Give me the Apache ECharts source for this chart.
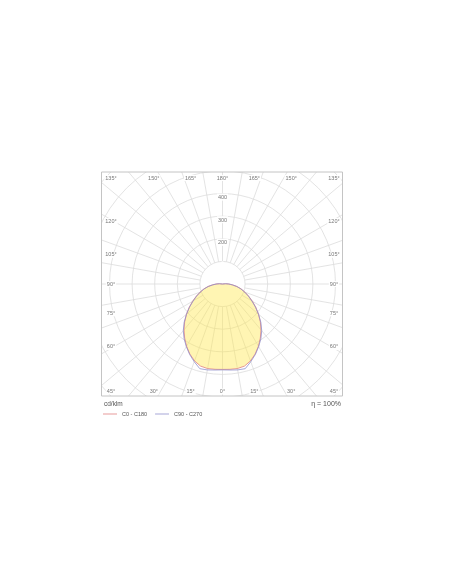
<!DOCTYPE html>
<html>
<head>
<meta charset="utf-8">
<script src="https://cdn.jsdelivr.net/npm/echarts@6/dist/echarts.min.js"></script>
<style>
  html, body { margin: 0; padding: 0; background: #fff; }
  #chart { width: 452px; height: 584px; }
</style>
</head>
<body>
<div id="chart"></div>
<script>
// gamma angle from nadir (deg) and luminous intensity (cd/klm)
var gamma   = [0, 5, 10, 15, 20, 25, 30, 35, 40, 45, 50, 55, 60, 65, 70, 75, 80, 85, 90, 95, 100, 180];
var c0c180  = [378, 379, 380, 376, 362, 342, 318, 292, 265, 237, 208, 180, 153, 128, 106, 86, 66, 44, 28, 14, 0, 0];
var c90c270 = [380, 382, 386, 388, 366, 344, 320, 296, 270, 240, 208, 178, 150, 126, 104, 84, 64, 44, 28, 14, 0, 0];

var ringLabels = [200, 300, 400];
var angleTicks = [0, 15, 30, 45, 60, 75, 90, 105, 120, 135, 150, 165, 180];
var seriesNames = ['C0 - C180', 'C90 - C270'];
var unitText = 'cd/klm';
var lorText = 'η = 100%';

// layout
var CX = 222.5, CY = 284;
var PX100 = 22.6;          // pixels per 100 cd/klm
var RMAX = 800;
var BOX = { l: 101.5, t: 172, r: 342.5, b: 396 };
var FONT = 'Liberation Sans, Arial, sans-serif';

// both halves of a C plane: negative angle = left side
function curve(vals) {
    var pts = [];
    for (var i = gamma.length - 1; i > 0; i--) pts.push([vals[i], -gamma[i]]);
    for (i = 0; i < gamma.length; i++) pts.push([vals[i], gamma[i]]);
    return pts;
}

// where the angle labels sit along the frame
function anglePos(g, s) {
    var rad = g * Math.PI / 180;
    if (g < 45) return [CX + s * 119 * Math.tan(rad), CY + 107.5];
    if (g === 45) return [CX + s * 111.5, CY + 107.5];
    if (g < 135) return [CX + s * 111.5, CY + 109 / Math.tan(rad)];
    if (g === 135) return [CX + s * 111.5, CY - 106];
    return [CX + s * 119 * Math.tan(Math.PI - rad), CY - 106];
}

var graphics = [
    // hide the grid outside the frame
    { type: 'rect', z: 10, silent: true, shape: { x: 0, y: 0, width: 452, height: BOX.t }, style: { fill: '#fff' } },
    { type: 'rect', z: 10, silent: true, shape: { x: 0, y: BOX.b, width: 452, height: 584 - BOX.b }, style: { fill: '#fff' } },
    { type: 'rect', z: 10, silent: true, shape: { x: 0, y: BOX.t, width: BOX.l, height: BOX.b - BOX.t }, style: { fill: '#fff' } },
    { type: 'rect', z: 10, silent: true, shape: { x: BOX.r, y: BOX.t, width: 452 - BOX.r, height: BOX.b - BOX.t }, style: { fill: '#fff' } },
    // frame
    { type: 'rect', z: 20, silent: true, shape: { x: BOX.l, y: BOX.t, width: BOX.r - BOX.l, height: BOX.b - BOX.t },
      style: { fill: 'none', stroke: '#c4c4c4', lineWidth: 1 } },
    { type: 'text', z: 30, style: { text: unitText, x: 104, y: 404.5, fill: '#555', font: '6.5px ' + FONT, verticalAlign: 'middle' } },
    { type: 'text', z: 30, style: { text: lorText, x: 341, y: 404.5, fill: '#555', font: '7px ' + FONT, align: 'right', verticalAlign: 'middle' } }
];

angleTicks.forEach(function (g) {
    var sides = (g === 0 || g === 180) ? [1] : [-1, 1];
    sides.forEach(function (s) {
        var p = anglePos(g, s);
        graphics.push({
            type: 'text', z: 30, silent: true,
            style: { text: g + '°', x: p[0], y: p[1], fill: '#777', font: '5.5px ' + FONT,
                     align: 'center', verticalAlign: 'middle', backgroundColor: '#fff', padding: [0, 1] }
        });
    });
});

var gridLine = { color: '#dcdcdc', width: 0.8 };

var chart = echarts.init(document.getElementById('chart'));
chart.setOption({
    backgroundColor: '#fff',
    animation: false,
    polar: [
        { center: [CX, CY], radius: [PX100, PX100 * RMAX / 100] },   // grid, starts at 100
        { center: [CX, CY], radius: [0, PX100 * RMAX / 100] }        // data
    ],
    angleAxis: [
        { polarIndex: 0, type: 'value', min: 0, max: 360, interval: 10, startAngle: 90,
          axisLine: { show: false }, axisTick: { show: false }, axisLabel: { show: false },
          splitLine: { show: true, lineStyle: gridLine } },
        { polarIndex: 1, type: 'value', min: -180, max: 180, startAngle: 90, clockwise: false, show: false }
    ],
    radiusAxis: [
        { polarIndex: 0, type: 'value', min: 100, max: RMAX, interval: 100,
          axisLine: { show: false }, axisTick: { show: false },
          splitLine: { show: true, lineStyle: gridLine },
          axisLabel: {
              margin: 0, align: 'center', verticalAlign: 'top', fontSize: 5.5, color: '#777',
              fontFamily: FONT, backgroundColor: '#fff', padding: [1, 1, 0, 1],
              formatter: function (v) { return ringLabels.indexOf(v) >= 0 ? String(v) : ''; }
          } },
        { polarIndex: 1, type: 'value', min: 0, max: RMAX, show: false }
    ],
    legend: {
        data: seriesNames, left: 103, top: 411, z: 30, padding: 0,
        icon: 'rect', itemWidth: 14, itemHeight: 0.8, itemGap: 8,
        textStyle: { fontSize: 5.5, color: '#555', fontFamily: FONT }
    },
    graphic: graphics,
    series: [
        {
            name: seriesNames[0], type: 'line', coordinateSystem: 'polar', polarIndex: 1,
            data: curve(c0c180), symbol: 'none', z: 3,
            lineStyle: { color: '#e08080', width: 0.8 },
            itemStyle: { color: '#e08080' },
            areaStyle: { color: '#ffe84a', opacity: 0.42 }
        },
        {
            name: seriesNames[1], type: 'line', coordinateSystem: 'polar', polarIndex: 1,
            data: curve(c90c270), symbol: 'none', z: 4,
            lineStyle: { color: '#9090cc', width: 0.8 },
            itemStyle: { color: '#9090cc' }
        }
    ]
});
</script>
</body>
</html>
